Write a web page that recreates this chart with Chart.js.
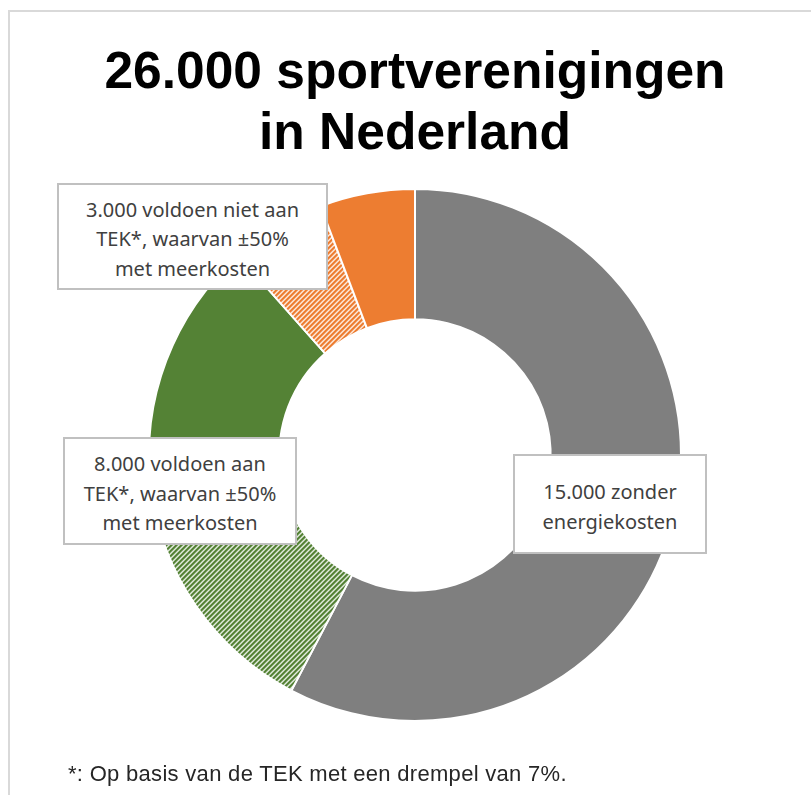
<!DOCTYPE html>
<html>
<head>
<meta charset="utf-8">
<script src="https://cdn.jsdelivr.net/npm/chart.js@4.4.1/dist/chart.umd.min.js"></script>
<style>
  html, body { margin: 0; padding: 0; background: #fff; overflow: hidden; }
  body { width: 811px; height: 795px; position: relative; }
  #frame { position: absolute; left: 8px; top: 10px; width: 900px; height: 900px;
           border: 2px solid #d9d9d9; box-sizing: border-box; }
  #wrap { position: absolute; left: 0; top: 0; width: 811px; height: 795px; }
  #title { position: absolute; left: 0; width: 830px; top: 40px; text-align: center;
           font-family: "Liberation Sans", Arial, sans-serif; font-weight: bold;
           font-size: 51.5px; line-height: 61px; color: #000; }
  .lbl { position: absolute; background: #fff; border: 2px solid #c0c0c0; box-sizing: border-box;
         font-family: "Noto Sans", sans-serif; font-size: 20px; line-height: 29.5px; color: #404040;
         text-align: center; display: flex; align-items: center; justify-content: center;
         padding-top: 5px; }
  #note { position: absolute; left: 68px; top: 761px; font-family: "Liberation Sans", Arial, sans-serif;
          font-size: 22px; letter-spacing: 0.3px; color: #262626; }
</style>
</head>
<body>
<div id="frame"></div>
<div id="wrap"><canvas id="donut"></canvas></div>
<div id="title">26.000 sportverenigingen<br>in Nederland</div>
<div id="note">*: Op basis van de TEK met een drempel van 7%.</div>
<script>
// segments, clockwise from the top
const categories = ["zonder energiekosten", "voldoen aan TEK, met meerkosten", "voldoen aan TEK",
                    "voldoen niet aan TEK, met meerkosten", "voldoen niet aan TEK"];
const values = [15000, 4000, 4000, 1500, 1500];
const grey = '#7f7f7f';
const green = '#548235';
const orange = '#ed7d31';

// text boxes
const labelTexts = ["3.000 voldoen niet aan<br>TEK*, waarvan ±50%<br>met meerkosten",
                    "8.000 voldoen aan<br>TEK*, waarvan ±50%<br>met meerkosten",
                    "15.000 zonder<br>energiekosten"];
const labelBoxes = [[57, 183, 271, 107], [63, 437, 234, 108], [513, 454, 194, 100]];

labelTexts.forEach((t, i) => {
    const b = labelBoxes[i];
    const d = document.createElement('div');
    d.className = 'lbl';
    d.style.left = b[0] + 'px';
    d.style.top = b[1] + 'px';
    d.style.width = b[2] + 'px';
    d.style.height = b[3] + 'px';
    d.innerHTML = '<div>' + t + '</div>';
    document.body.appendChild(d);
});

// diagonal hatch like the office "wide upward diagonal" fill
function hatch(hex) {
    const c = document.createElement('canvas');
    c.width = 5; c.height = 5;
    const ctx = c.getContext('2d');
    const r = parseInt(hex.slice(1, 3), 16), g = parseInt(hex.slice(3, 5), 16), b = parseInt(hex.slice(5, 7), 16);
    const mix = (k) => `rgb(${Math.round(255 + (r - 255) * k)},${Math.round(255 + (g - 255) * k)},${Math.round(255 + (b - 255) * k)})`;
    for (let x = 0; x < 5; x++) {
        for (let y = 0; y < 5; y++) {
            const d = (x + y) % 5;
            ctx.fillStyle = d < 2 ? mix(1) : (d === 2 ? mix(0.7) : (d === 4 ? mix(0.45) : mix(0.18)));
            ctx.fillRect(x, y, 1, 1);
        }
    }
    return ctx.createPattern(c, 'repeat');
}

new Chart(document.getElementById('donut'), {
    type: 'doughnut',
    data: {
        labels: categories,
        datasets: [{
            data: values,
            backgroundColor: [grey, hatch(green), green, hatch(orange), orange],
            borderColor: '#ffffff',
            borderWidth: 2,
            hoverOffset: 0
        }]
    },
    options: {
        responsive: true,
        maintainAspectRatio: false,
        animation: false,
        events: [],
        cutout: '51%',
        layout: { padding: { left: 148, right: 129, top: 188, bottom: 73 } },
        plugins: {
            legend: { display: false },
            tooltip: { enabled: false }
        }
    }
});
</script>
</body>
</html>
